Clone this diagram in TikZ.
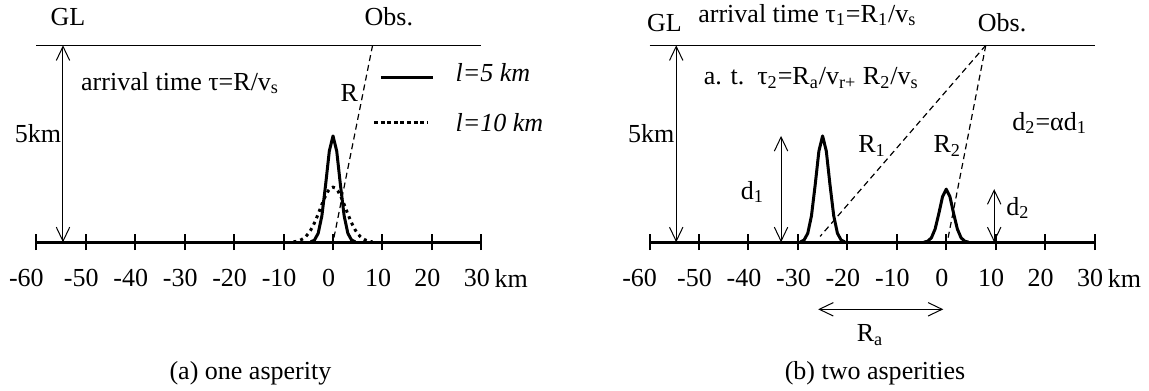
\documentclass[tikz,border=0pt]{standalone}
\usepackage{fontspec}
\setmainfont{Liberation Serif}
\usetikzlibrary{arrows.meta}

\begin{document}
\begin{tikzpicture}[x=2.4725pt, y=19.7pt,
    font=\fontsize{13}{15}\selectfont,
    ground/.style={line width=0.8pt},
    baseaxis/.style={line width=1.5pt},
    tickmark/.style={line width=1pt},
    dimarrow/.style={line width=0.5pt,
      {Straight Barb[length=7pt,width=6.7pt]}-{Straight Barb[length=7pt,width=6.7pt]}},
    ray/.style={line width=0.6pt, dash pattern=on 3pt off 2pt},
    asp/.style={line width=1.5pt, line join=round},
    aspdot/.style={line width=1.5pt, dash pattern=on 1.5pt off 2pt},
    lbl/.style={inner sep=0pt}]

\useasboundingbox (-67.34,-3.749) rectangle (165.0,6.15);

% common frame of both panels
\foreach \pan/\sh in {a/0, b/124} {
  \begin{scope}[shift={(\sh,0)}]
    \draw[ground] (-60,5) -- (30,5);
    \draw[baseaxis] (-60,0) -- (30,0);
    \foreach \k in {-60,-50,...,30} {
      \draw[tickmark] (\k,-0.2) -- (\k,0.2);
      \ifnum\k=-60 \def\dx{2}\else \def\dx{0.9}\fi
      \node[lbl] (t\pan\k) at (\k-\dx,-0.91) {\k};
    }
    \node[lbl, anchor=west] (unit\pan) at (32.6,-0.91) {km};
    \coordinate (top\pan) at (-54.6,5);
    \coordinate (bot\pan) at (-54.6,0);
    \draw[dimarrow] (bot\pan) -- (top\pan);
    \node[lbl, anchor=east] (depth\pan) at (-54.9,2.77) {5km};
    \coordinate (obs\pan) at (8,5);
  \end{scope}
}

% (a) one asperity
\node[lbl] (gla) at (-53.6,5.72) {GL};
\node[lbl] (obsla) at (11.3,5.72) {Obs.};
\node[lbl, anchor=west] (tta) at (-51,4.04) {arrival time τ=R/v\textsubscript{s}};
\draw[asp] plot[domain=-4.5:4.5, samples=13] (\x,{2.7*exp(-\x*\x/3.645)});
\draw[aspdot] plot[domain=-8:8, samples=33] (\x,{1.4*exp(-\x*\x/13.5)});
\coordinate (srca) at (0,0);
\draw[ray] (obsa) -- (srca);
\node[lbl] (ra) at (3.3,3.8) {R};
\coordinate (k5w) at (9.7,4.19);
\coordinate (k5e) at (20.2,4.19);
\draw[asp] (k5w) -- (k5e);
\node[lbl, anchor=west] (k5) at (24.7,4.3) {\textit{l=5 km}};
\coordinate (k10w) at (8.3,3.05);
\coordinate (k10e) at (19,3.05);
\draw[line width=1.5pt, dash pattern=on 2pt off 1.3pt] (k10w) -- (k10e);
\node[lbl, anchor=west] (k10) at (24.7,3.05) {\textit{l=10 km}};
\node[lbl] (capa) at (-16.7,-3.32) {(a) one asperity};

% (b) two asperities
\begin{scope}[shift={(124,0)}]
  \node[lbl] (glb) at (-57,5.57) {GL};
  \node[lbl, anchor=west] (ttb) at (-50.2,5.77)
    {arrival time τ\textsubscript{1}=R\textsubscript{1}/v\textsubscript{s}};
  \node[lbl] (obslb) at (11.3,5.57) {Obs.};
  \node[lbl, anchor=west] (atb) at (-49.1,4.17)
    {a. t.\ \ τ\textsubscript{2}=R\textsubscript{a}/v\textsubscript{r+} R\textsubscript{2}/v\textsubscript{s}};
  \draw[asp] plot[domain=-29.5:-20.5, samples=13] (\x,{2.7*exp(-(\x+25)*(\x+25)/3.645)});
  \draw[asp] plot[domain=-4.5:4.5, samples=13] (\x,{1.35*exp(-\x*\x/3.645)});
  \coordinate (src1) at (-25.5,0.15);
  \coordinate (src2) at (0.2,0);
  \draw[ray] (obsb) -- (src1);
  \draw[ray] (obsb) -- (src2);
  \node[lbl] (r1) at (-15,2.44) {R\textsubscript{1}};
  \node[lbl] (r2) at (0.2,2.44) {R\textsubscript{2}};
  \node[lbl, anchor=west] (ratio) at (13.3,3.03) {d\textsubscript{2}=αd\textsubscript{1}};
  \coordinate (d1top) at (-33.4,2.7);
  \coordinate (d1bot) at (-33.4,0);
  \draw[dimarrow] (d1bot) -- (d1top);
  \node[lbl] (d1) at (-39.2,1.28) {d\textsubscript{1}};
  \coordinate (d2top) at (9.7,1.35);
  \coordinate (d2bot) at (9.7,0);
  \draw[dimarrow] (d2bot) -- (d2top);
  \node[lbl, anchor=west] (d2) at (12.1,0.87) {d\textsubscript{2}};
  \coordinate (raw) at (-25.9,-1.7);
  \coordinate (rae) at (-0.6,-1.7);
  \draw[dimarrow] (raw) -- (rae);
  \node[lbl] (rab) at (-15.4,-2.35) {R\textsubscript{a}};
  \node[lbl] (capb) at (-14.4,-3.32) {(b) two asperities};
\end{scope}
\end{tikzpicture}
\end{document}
